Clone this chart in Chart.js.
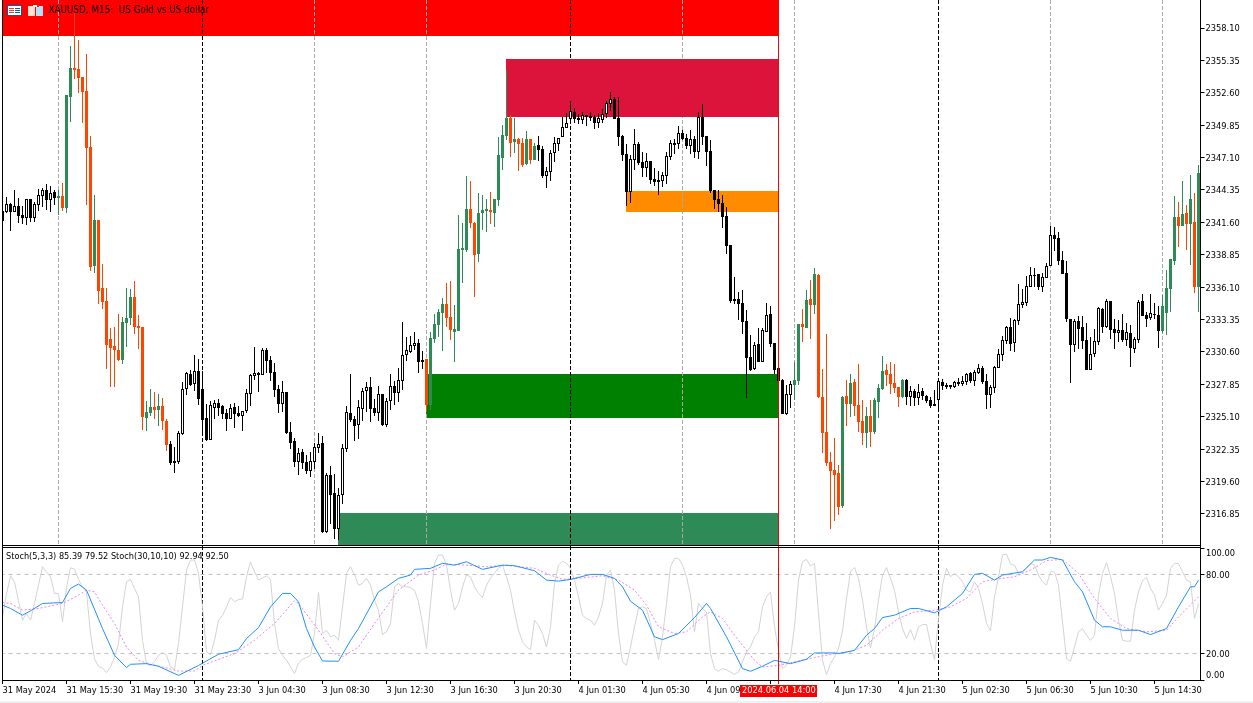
<!DOCTYPE html>
<html lang="en">
<head>
  <meta charset="UTF-8">
  <title>XAUUSD, M15</title>
  <script src="https://cdn.jsdelivr.net/npm/chart.js"></script>
  <style>
    html, body { margin: 0; padding: 0; background: #f0f0f0; overflow: hidden; }
    canvas { display: block; background: #fff; }
  </style>
</head>
<body>
<canvas id="chart" width="1253" height="701"></canvas>
<script>
const open = [
  2342.57,2342.48,2343.16,2342.48,2342.99,2342.23,2341.97,2343.58,2341.97,2343.08,
  2343.84,2344.35,2343.50,2344.18,2343.67,2343.84,2342.82,2352.24,2354.71,2354.62,
  2353.94,2352.76,2348.00,2337.90,2341.80,2336.03,2334.93,2331.70,2331.11,2330.77,
  2329.92,2333.06,2333.48,2335.26,2332.80,2332.72,2324.99,2325.42,2325.93,2325.67,
  2326.01,2324.74,2322.78,2321.34,2321.25,2323.63,2327.45,2328.73,2327.88,2328.98,
  2327.45,2324.99,2323.12,2325.84,2326.27,2326.01,2325.42,2324.91,2325.93,2325.42,
  2325.16,2325.59,2327.03,2328.56,2328.81,2328.64,2330.77,2329.92,2328.90,2327.45,
  2326.18,2327.20,2323.80,2323.04,2321.25,2322.11,2321.25,2320.49,2321.25,2322.44,
  2322.87,2315.31,2320.15,2318.62,2315.57,2318.45,2322.36,2325.42,2324.91,2324.40,
  2325.76,2327.28,2327.62,2325.84,2325.42,2327.03,2324.40,2326.44,2327.71,2327.11,
  2328.13,2330.34,2330.60,2331.11,2331.36,2329.92,2330.00,2326.09,2331.70,2332.89,
  2333.91,2334.67,2333.57,2332.29,2332.38,2339.26,2339.26,2342.74,2341.55,2338.92,
  2342.40,2342.57,2342.65,2342.40,2343.50,2347.07,2348.93,2350.46,2348.42,2348.68,
  2348.34,2346.56,2348.68,2346.90,2348.17,2347.83,2345.54,2345.88,2347.49,2348.25,
  2348.85,2349.61,2350.38,2350.97,2350.46,2350.29,2350.72,2350.63,2350.55,2350.04,
  2350.29,2350.80,2351.65,2352.07,2350.46,2348.93,2347.41,2344.18,2346.90,2348.25,
  2346.73,2346.22,2346.81,2345.28,2345.20,2345.11,2345.54,2347.15,2348.34,2348.25,
  2349.19,2348.76,2348.08,2348.68,2347.58,2350.55,2348.93,2347.66,2344.35,2343.58,
  2343.25,2342.14,2339.68,2335.10,2335.10,2334.76,2333.23,2330.17,2329.15,2331.28,
  2329.75,2332.29,2333.82,2331.36,2329.24,2328.22,2325.33,2326.95,2327.79,2328.13,
  2332.97,2332.63,2335.10,2334.59,2337.13,2326.77,2323.80,2321.25,2320.58,2320.32,
  2317.52,2326.86,2326.18,2328.05,2326.09,2324.74,2323.72,2325.16,2323.80,2326.35,
  2327.45,2329.07,2328.73,2327.96,2327.62,2326.77,2328.22,2326.77,2327.28,2326.69,
  2327.28,2326.86,2326.52,2326.18,2326.52,2328.05,2327.79,2327.79,2327.62,2327.88,
  2327.88,2328.05,2328.81,2328.13,2328.81,2329.24,2328.13,2326.95,2327.54,2329.24,
  2330.34,2331.53,2332.72,2331.36,2333.23,2334.59,2334.76,2336.11,2337.05,2337.22,
  2336.11,2336.88,2337.90,2340.53,2340.27,2338.41,2337.30,2333.40,2331.19,2333.23,
  2332.72,2331.61,2329.07,2330.43,2331.45,2334.25,2332.72,2334.93,2332.55,2332.21,
  2332.46,2331.61,2332.21,2330.85,2331.61,2334.93,2333.74,2333.48,2333.74,2333.74,
  2332.38,2333.91,2335.95,2338.32,2342.06,2341.29,2342.40,2341.46,2341.63,2336.11
];
const close = [
  2341.72,2343.16,2342.48,2342.99,2342.14,2341.97,2343.58,2341.97,2343.16,2343.92,
  2344.35,2343.50,2344.09,2343.67,2343.84,2342.82,2352.41,2354.71,2354.54,2353.86,
  2352.67,2347.91,2337.81,2341.80,2335.77,2334.84,2331.19,2330.94,2330.77,2329.92,
  2333.14,2333.48,2335.26,2332.72,2332.63,2325.08,2325.50,2325.93,2325.67,2326.01,
  2324.74,2322.70,2321.17,2321.17,2323.72,2327.45,2328.81,2327.79,2328.98,2326.61,
  2324.82,2323.12,2326.09,2326.27,2325.84,2325.33,2324.91,2325.84,2325.33,2325.16,
  2325.59,2327.11,2328.64,2328.81,2328.64,2330.77,2329.83,2328.81,2327.37,2326.18,
  2327.20,2323.72,2322.87,2321.25,2322.02,2321.17,2320.49,2321.34,2322.53,2322.78,
  2315.31,2320.15,2318.45,2315.57,2318.45,2322.44,2325.50,2324.82,2324.31,2325.93,
  2327.28,2327.62,2325.76,2325.42,2327.03,2324.40,2326.44,2327.71,2327.11,2328.22,
  2330.34,2330.77,2331.19,2331.36,2329.75,2329.75,2326.09,2331.78,2332.97,2333.99,
  2334.67,2333.48,2332.46,2332.55,2339.34,2339.43,2342.74,2341.55,2338.83,2342.40,
  2342.65,2342.74,2342.48,2343.58,2347.32,2349.02,2350.46,2348.34,2348.68,2348.25,
  2346.47,2348.68,2346.90,2348.08,2347.75,2345.54,2345.96,2347.49,2348.34,2348.76,
  2349.70,2350.04,2351.06,2350.38,2350.29,2350.72,2350.55,2350.46,2350.04,2350.46,
  2350.80,2351.74,2352.07,2350.38,2348.85,2347.32,2344.18,2346.98,2348.25,2346.64,
  2346.22,2346.81,2345.20,2345.03,2345.03,2345.62,2347.24,2348.34,2348.17,2349.19,
  2348.68,2348.08,2348.68,2347.58,2350.55,2348.85,2347.58,2344.26,2343.50,2343.16,
  2342.06,2339.59,2334.93,2334.93,2334.67,2333.14,2330.09,2329.07,2331.19,2329.75,
  2332.46,2333.74,2331.28,2329.07,2328.13,2325.33,2327.03,2327.88,2328.22,2332.97,
  2332.72,2335.01,2334.59,2337.22,2326.77,2323.72,2321.17,2320.49,2320.15,2317.44,
  2326.77,2326.18,2327.96,2326.01,2324.65,2323.72,2325.16,2323.80,2326.52,2327.54,
  2328.98,2328.64,2327.88,2327.54,2326.77,2328.22,2326.77,2327.28,2326.69,2327.20,
  2326.86,2326.44,2326.01,2326.01,2328.13,2327.71,2327.62,2327.62,2328.05,2328.05,
  2328.13,2328.73,2328.13,2328.90,2329.24,2328.05,2326.95,2327.62,2329.32,2330.43,
  2331.61,2332.72,2331.28,2333.31,2334.67,2334.84,2336.20,2337.13,2337.13,2336.11,
  2336.96,2337.90,2340.53,2340.19,2338.32,2337.22,2333.40,2331.19,2333.23,2332.55,
  2331.53,2329.07,2330.43,2331.53,2334.33,2332.72,2334.93,2332.46,2332.21,2332.46,
  2331.61,2332.29,2330.94,2331.70,2334.84,2333.65,2333.40,2333.91,2333.82,2332.38,
  2334.50,2336.03,2338.49,2342.06,2341.29,2342.31,2341.46,2343.58,2336.11,2345.79
];
const high = [
  2342.82,2343.75,2343.25,2344.35,2343.67,2342.99,2343.58,2343.58,2343.33,2344.43,
  2344.52,2344.86,2344.69,2344.35,2344.35,2344.94,2352.41,2356.57,2359.38,2357.08,
  2353.94,2355.90,2348.93,2343.92,2341.80,2338.07,2336.03,2332.63,2332.72,2333.82,
  2333.57,2336.03,2335.95,2336.62,2333.74,2332.72,2326.44,2327.45,2327.20,2327.03,
  2326.69,2324.91,2323.04,2322.53,2323.89,2328.05,2328.90,2329.07,2330.34,2330.00,
  2328.98,2326.18,2326.44,2326.52,2326.61,2326.09,2325.76,2326.18,2326.27,2326.01,
  2325.59,2327.45,2328.73,2331.02,2328.90,2330.94,2330.94,2330.26,2329.66,2327.79,
  2328.13,2327.20,2324.65,2323.29,2322.44,2322.36,2321.85,2322.11,2322.87,2323.72,
  2323.46,2320.32,2320.92,2320.24,2319.05,2322.78,2326.01,2328.73,2325.16,2326.52,
  2327.54,2328.05,2328.47,2326.61,2327.71,2327.03,2326.69,2328.73,2328.13,2329.24,
  2333.14,2331.87,2331.95,2332.29,2331.70,2330.68,2330.00,2332.29,2333.82,2334.25,
  2335.18,2336.45,2336.62,2334.59,2342.23,2341.55,2345.54,2345.11,2341.63,2344.09,
  2343.92,2343.58,2344.18,2343.58,2348.85,2349.87,2354.54,2350.72,2350.46,2348.76,
  2348.76,2349.36,2348.68,2348.34,2348.93,2348.08,2346.30,2347.75,2348.85,2348.76,
  2350.55,2350.89,2351.91,2351.31,2350.80,2350.97,2350.72,2350.97,2350.72,2350.89,
  2351.23,2351.91,2352.67,2352.24,2352.24,2349.02,2348.25,2347.32,2349.53,2348.42,
  2347.58,2347.49,2346.81,2346.22,2345.96,2345.88,2347.58,2348.59,2348.68,2349.78,
  2349.44,2349.10,2349.44,2348.93,2350.97,2351.65,2348.93,2348.59,2344.35,2344.35,
  2343.92,2342.91,2339.68,2336.96,2335.69,2335.86,2334.16,2332.04,2331.45,2332.63,
  2332.63,2334.76,2334.50,2331.36,2329.24,2328.30,2327.79,2328.13,2329.75,2332.97,
  2334.25,2335.86,2336.71,2337.73,2337.22,2329.15,2332.12,2322.11,2323.29,2321.00,
  2326.86,2328.22,2328.73,2328.30,2329.58,2326.52,2325.93,2326.52,2326.69,2327.88,
  2330.26,2329.58,2329.75,2329.58,2327.62,2328.30,2328.30,2327.71,2327.45,2327.88,
  2327.54,2326.95,2326.77,2327.37,2328.13,2328.30,2327.96,2327.79,2328.13,2328.39,
  2328.56,2328.81,2328.90,2329.07,2329.58,2329.41,2328.73,2327.79,2329.41,2330.85,
  2331.95,2332.80,2333.48,2333.40,2336.37,2335.95,2337.05,2337.81,2337.73,2337.22,
  2337.30,2338.15,2341.29,2341.21,2340.78,2339.17,2338.32,2333.40,2333.40,2333.65,
  2333.65,2333.06,2331.87,2332.55,2334.42,2334.33,2335.10,2334.93,2333.40,2333.31,
  2333.82,2333.06,2332.89,2331.87,2335.01,2335.52,2333.99,2335.52,2334.76,2334.50,
  2335.43,2337.56,2338.49,2343.84,2343.33,2345.11,2343.08,2345.62,2344.09,2346.47
];
const low = [
  2341.46,2342.40,2340.87,2342.48,2341.55,2341.46,2341.38,2341.63,2341.63,2342.57,
  2342.91,2342.65,2342.48,2343.08,2342.23,2342.57,2342.40,2350.12,2353.77,2352.58,
  2350.04,2343.08,2337.47,2337.30,2334.67,2334.25,2329.15,2327.62,2327.62,2329.83,
  2329.58,2331.02,2332.89,2332.12,2330.85,2323.97,2323.89,2325.16,2324.91,2324.31,
  2323.97,2322.19,2321.00,2320.32,2321.09,2323.55,2326.95,2327.71,2327.28,2326.09,
  2323.63,2323.04,2323.12,2324.91,2325.16,2324.91,2323.89,2324.91,2324.14,2325.08,
  2323.89,2325.42,2326.01,2328.22,2327.20,2328.64,2328.81,2328.13,2326.77,2325.42,
  2325.50,2323.63,2322.36,2320.83,2320.15,2320.66,2320.24,2319.98,2320.66,2322.02,
  2315.23,2315.23,2315.99,2314.72,2314.63,2317.69,2322.11,2324.65,2323.04,2323.21,
  2324.74,2325.50,2324.65,2325.16,2324.74,2324.31,2324.23,2325.67,2326.09,2326.35,
  2327.37,2329.83,2330.51,2330.77,2328.81,2329.15,2325.50,2325.67,2331.36,2331.87,
  2330.68,2332.72,2331.61,2329.75,2332.38,2336.45,2339.09,2341.12,2335.26,2338.24,
  2340.95,2340.78,2341.46,2341.21,2342.99,2346.05,2348.59,2347.15,2347.49,2345.96,
  2346.30,2346.47,2346.56,2346.90,2346.81,2345.37,2344.52,2345.11,2346.73,2347.66,
  2348.85,2349.61,2349.95,2350.04,2349.95,2349.95,2349.78,2350.21,2349.53,2349.61,
  2350.04,2350.46,2351.06,2350.38,2348.08,2346.81,2342.99,2343.25,2346.05,2346.47,
  2345.45,2345.45,2344.86,2344.69,2343.92,2344.60,2344.86,2346.90,2347.41,2347.83,
  2348.59,2347.83,2347.41,2347.07,2346.98,2348.17,2346.39,2344.09,2342.74,2342.48,
  2341.12,2338.92,2334.76,2334.67,2333.31,2332.12,2326.69,2328.98,2329.07,2329.75,
  2329.75,2332.29,2331.02,2328.73,2328.13,2325.33,2325.25,2325.84,2326.52,2327.79,
  2331.45,2332.63,2331.70,2333.82,2326.69,2322.02,2320.92,2315.57,2316.25,2316.76,
  2317.35,2324.31,2325.08,2325.16,2323.80,2322.70,2322.44,2322.53,2323.63,2324.99,
  2327.37,2327.71,2327.03,2327.11,2325.93,2326.69,2326.09,2326.01,2326.01,2326.09,
  2326.52,2326.27,2325.84,2326.01,2325.76,2327.37,2327.45,2327.45,2327.54,2327.71,
  2327.71,2327.79,2327.96,2327.71,2328.73,2327.88,2325.76,2325.84,2327.11,2329.24,
  2329.83,2331.28,2330.68,2330.60,2332.89,2334.33,2334.50,2336.11,2336.11,2335.86,
  2335.69,2336.88,2337.90,2339.17,2337.98,2337.22,2333.14,2327.96,2330.60,2330.85,
  2330.85,2329.07,2329.07,2330.17,2331.19,2332.21,2332.63,2331.70,2330.85,2331.45,
  2331.45,2331.11,2329.32,2330.51,2331.36,2333.65,2332.72,2333.31,2333.40,2330.94,
  2332.21,2332.04,2333.99,2337.98,2339.51,2341.29,2339.26,2337.98,2335.60,2333.99
];

// Stoch(5,3,3) main line, one value per bar
const stochFast = [
  47.8,65,79,74.4,60,45.3,50.4,45.3,58,72,
  85.8,82,78.2,65.6,65.6,44,70,85,84,76,
  70.6,66.8,35,16,10.4,9,5.6,10,17.5,27.6,
  55.4,74.4,76.2,69.4,63,30,12.4,11,13.7,18.7,
  20.8,18.7,10,8,27.6,55.4,83.3,90.9,90.9,80.8,
  55.4,21.3,19.2,30,45.3,49,55.4,62.5,59.2,61,
  61.3,78.2,89.6,82,75.7,77.5,78.7,76.2,42.8,23.8,
  18.7,15,10,4.8,12.9,15.7,17,18.7,35.2,66.3,
  35.2,37.7,32.7,33.9,30,55.4,80.8,85.8,79.5,71.9,
  73.2,77,71.9,60.5,52.9,34.4,36.5,42.8,70.6,73.2,
  70.6,70.6,70,68,59.2,42.8,23.8,58,88.4,94.7,
  94.7,87,68,52.9,58,70.6,79.5,78.2,70.6,65.6,
  62.5,71.9,77,80.8,84.6,87,78.2,68,51.6,37.7,
  28.9,25,23,45.3,41.5,35.2,25,40.3,73.2,87,
  90,88.4,84.6,75.7,63,49,46.6,45.3,41.5,47.8,
  58,79.5,83.3,68,35.2,13.7,11.1,25,40.3,54.2,
  55.4,54.2,42.8,30,15.4,32.7,58,85.8,92.2,92.2,
  87,78.2,64.3,36.5,58,54.2,51.6,20,8.6,6.6,
  8.6,7.8,6,4.3,6,13.7,21.3,25,32.7,36.5,
  55.4,63,66.8,40.3,22.5,8.6,11.1,17.5,40.3,75.7,
  89.6,91.4,86.3,88.4,50.4,14.9,4,12.4,17.5,23.8,
  37.2,61.5,82,85.3,77,60.5,40.3,24.3,39,60.5,
  79.5,85.3,77,68,51.6,39,31.4,38.2,30.1,40.3,
  42,42,27.6,15.4,46.6,71.9,84.6,78.2,80.8,78.2,
  74.4,68,66.8,74.4,69.4,58,42.8,37.2,63,78.2,
  94.7,95.4,87.8,87,80.8,82,84.6,88.4,87,79.5,
  74.4,71.9,82,82,71.9,44,16.2,14.2,25,36.5,
  39,33.9,30.1,33.9,64.3,80.8,88.9,78.2,65.6,45.3,
  30.1,29.4,29.4,52.9,66.8,75.2,77.7,69.4,64.3,52.9,
  58,64.3,84.6,88.4,88.1,82,75.7,74.4,46.6,58
];
// Stoch(30,10,10) main line, read at its corners
const slowBars = [
  0,2,5,7,10,15,17,19,21,25,28,31,32,36,39,44,49,54,59,61,64,67,70,72,74,76,78,80,84,87,89,94,96,99,102,103,
  107,110,113,116,120,125,128,133,136,139,142,147,150,153,155,157,160,163,165,169,173,176,177,181,185,187,190,193,197,201,203,208,
  209,213,216,218,220,223,227,229,233,236,240,243,245,248,250,255,258,260,262,265,268,270,273,275,277,280,284,287,291,294,297,298,299
];
const stochSlow = [
  56.7,54.2,49.1,52.4,58,58.7,69.4,72.7,68.1,39,18.7,9.4,11.9,12.4,10.4,3.5,11,19.5,23,31.4,39.7,55.4,65.6,65.6,59.2,39,25,14.4,14.2,30,39,66.8,70.6,77,79.5,83.8,
  84.6,88.4,87,89.6,83.8,87,86.6,82.8,75.7,74.9,76.2,80,80,77,70.6,59.7,52.9,32.7,30.6,35.2,47.3,58,54.2,32.7,8.6,6.6,10.4,14.9,12.4,15.7,20.5,20.5,
  20,22.5,33.9,39,47.3,49.1,54.2,54.2,50.9,55.4,65.6,80,80.8,75.7,79.5,82,90.9,90.9,92.9,90.9,74.4,66.8,45.3,40.3,40.3,37.7,37.7,34.4,39,55.4,70.6,70.6,75.7
];
// Stoch(30,10,10) signal line, read at its corners
const signalBars = [
  0,2,5,9,15,19,21,23,25,28,31,34,37,40,44,48,50,58,63,68,73,74,79,83,85,89,93,99,104,
  108,111,116,121,126,129,133,137,140,144,150,154,158,161,164,168,171,175,177,180,183,188,190,194,198,203,
  208,212,216,220,224,228,233,237,241,245,248,253,257,261,265,269,273,277,281,286,291,294,299
];
const stochSignal = [
  58.7,58,52.9,54.2,58,64.3,68.1,66.8,56.7,42.8,25,14.9,11.9,9.9,6.8,6.8,11.1,20,30.1,42.8,60,58,37.7,20,17.5,25,42.8,68.1,79.5,
  83.3,87.8,87,85.8,87,85.8,84.6,79.5,76.2,77,79,75.7,68.1,56.7,40.3,35.2,36.5,47.8,51.6,46.6,33.9,14.9,9.9,11.1,13.7,17,
  20,21.3,26.3,37.7,46.6,51.6,52.9,55.4,61.8,74.4,76.2,78.2,83.3,90.4,91.4,80.8,61.8,46.6,39,36.5,37.7,47.8,63
];

// bars drawn in session colours, [first, last]
const sessionRanges = [[14, 41], [106, 133], [198, 225], [290, 299]];

const priceTicks = [2358.10,2355.35,2352.60,2349.85,2347.10,2344.35,2341.60,2338.85,2336.10,2333.35,2330.60,2327.85,2325.10,2322.35,2319.60,2316.85];
const stochTicks = [100, 80, 20, 0];
const timeTickBars = [0,16,32,48,64,80,96,112,128,144,160,176,192,208,224,240,256,272,288];
const timeTickLabels = ['31 May 2024','31 May 15:30','31 May 19:30','31 May 23:30','3 Jun 04:30','3 Jun 08:30','3 Jun 12:30','3 Jun 16:30','3 Jun 20:30','4 Jun 01:30','4 Jun 05:30','4 Jun 09:30','4 Jun 13:30','4 Jun 17:30','4 Jun 21:30','5 Jun 02:30','5 Jun 06:30','5 Jun 10:30','5 Jun 14:30'];

// zones: first bar, last bar, upper price, lower price; the last one lies over the dashed lines
const zoneColors = ['#ff0000', '#ff8c00', '#008000', '#2e8b57', '#dc143c'];
const zoneFrom = [0, 156, 106, 84, 126];
const zoneTo = [194, 194, 194, 194, 194];
const zoneTop = [2360.48, 2344.26, 2328.73, 2316.93, 2355.47];
const zoneBottom = [2357.42, 2342.48, 2324.99, 2314.21, 2350.55];

const sessionLineBars = [14, 78, 106, 170, 198, 262, 290];
const dayLineBars = [50, 142, 234];
const cursorBar = 194;

const FAMILY = "'DejaVu Sans Condensed', 'Liberation Sans', sans-serif";
const UP = '#2e8b57', DOWN = '#ff4500';

function inSession(i) {
  return sessionRanges.some(r => i >= r[0] && i <= r[1]);
}
function bodyFill(i) {
  const up = close[i] >= open[i];
  if (inSession(i)) return up ? UP : DOWN;
  return up ? '#ffffff' : '#000000';
}
function lineColor(i) {
  if (inSession(i)) return close[i] >= open[i] ? UP : DOWN;
  return '#000000';
}

const barIndex = open.map((_, i) => i);

function drawZone(chart, i) {
  const c = chart.ctx, x = chart.scales.x, y = chart.scales.y;
  const left = x.getPixelForValue(zoneFrom[i]);
  const right = x.getPixelForValue(zoneTo[i]);
  const top = Math.round(y.getPixelForValue(zoneTop[i]));
  const bottom = Math.round(y.getPixelForValue(zoneBottom[i]));
  c.fillStyle = zoneColors[i];
  c.fillRect(left - 0.5, top, right - left, bottom - top);
}

const panePlugin = {
  id: 'panes',
  beforeDatasetsDraw(chart) {
    const c = chart.ctx, x = chart.scales.x, y2 = chart.scales.y2;
    c.save();
    [0, 1, 2, 3].forEach(i => drawZone(chart, i));
    c.lineWidth = 1;
    c.setLineDash([4, 2]);
    c.strokeStyle = '#a9a9a9';
    sessionLineBars.forEach(b => {
      const px = x.getPixelForValue(b);
      c.beginPath(); c.moveTo(px, 0); c.lineTo(px, 545); c.stroke();
    });
    c.strokeStyle = '#000000';
    dayLineBars.forEach(b => {
      const px = x.getPixelForValue(b);
      c.beginPath(); c.moveTo(px, 0); c.lineTo(px, y2.bottom); c.stroke();
    });
    c.setLineDash([]);
    drawZone(chart, 4);
    c.restore();
  },
  afterDatasetsDraw(chart) {
    const c = chart.ctx, x = chart.scales.x, y2 = chart.scales.y2;
    c.save();
    c.fillStyle = '#ffffff';
    c.fillRect(0, 0, 2, y2.bottom);
    // cursor line
    const cx = x.getPixelForValue(cursorBar);
    c.strokeStyle = '#ff0000';
    c.lineWidth = 1;
    c.beginPath(); c.moveTo(cx, 0); c.lineTo(cx, y2.bottom + 4); c.stroke();
    // pane frames
    c.fillStyle = '#000000';
    c.fillRect(2, 0, 1, y2.bottom);
    c.fillRect(2, 545, 1198, 1);
    c.fillRect(2, 547, 1198, 1);
    c.fillRect(2, 680, 1198, 1);
    c.fillRect(1200, 0, 1, 681);
    // heading icons
    c.fillStyle = '#ffffff'; c.fillRect(8, 6, 14, 10);
    c.strokeStyle = '#0a5c9e'; c.strokeRect(7.5, 5.5, 14, 10);
    c.fillStyle = '#e0402a'; c.fillRect(9, 8, 5, 1); c.fillRect(9, 10, 5, 1); c.fillRect(9, 12, 5, 1);
    c.fillStyle = '#0a5c9e'; c.fillRect(15, 8, 5, 1); c.fillRect(15, 10, 5, 1); c.fillRect(15, 12, 5, 1);
    c.fillStyle = '#ffe0d0'; c.fillRect(28, 6, 7, 10);
    c.fillStyle = '#b8e0fa'; c.fillRect(36, 6, 7, 10);
    c.fillStyle = '#d03020'; c.fillRect(33, 5, 6, 2);
    c.fillStyle = '#ffffff'; c.fillRect(33, 5, 4, 2);
    // heading and indicator texts
    c.font = '9.8px ' + FAMILY;
    c.textBaseline = 'middle';
    c.textAlign = 'left';
    c.fillStyle = '#000000';
    c.fillText('XAUUSD, M15:  US Gold vs US dollar', 48.5, 10.5);
    c.font = '9.1px ' + FAMILY;
    c.fillText('Stoch(5,3,3) 85.39 79.52 Stoch(30,10,10) 92.94 92.50', 6, 556.5);
    // oscillator labels sit inside the pane at both ends
    c.font = '9.2px ' + FAMILY;
    stochTicks.forEach(v => {
      let py = y2.getPixelForValue(v) + 1;
      if (v === 100) py += 4.5;
      if (v === 0) py -= 5;
      c.fillText(v.toFixed(2), 1206, py);
    });
    c.restore();
  },
  afterDraw(chart) {
    const c = chart.ctx;
    c.save();
    c.fillStyle = '#ff0000';
    c.fillRect(740, 685, 77, 12);
    c.fillStyle = '#ffffff';
    c.font = '9.2px ' + FAMILY;
    c.textBaseline = 'middle';
    c.textAlign = 'left';
    c.fillText('2024.06.04 14:00', 742, 691);
    c.restore();
  }
};

new Chart(document.getElementById('chart'), {
  type: 'bar',
  plugins: [panePlugin],
  data: {
    labels: barIndex,
    datasets: [
      {
        label: 'Stoch(30,10,10) main', type: 'line', yAxisID: 'y2', order: 1,
        data: slowBars.map((b, i) => ({ x: b, y: stochSlow[i] })),
        borderColor: '#1e90ff', borderWidth: 1, pointRadius: 0, tension: 0
      },
      {
        label: 'Stoch(30,10,10) signal', type: 'line', yAxisID: 'y2', order: 2,
        data: signalBars.map((b, i) => ({ x: b, y: stochSignal[i] })),
        borderColor: '#ee82ee', borderWidth: 1, borderDash: [2, 2], pointRadius: 0, tension: 0
      },
      {
        label: 'Stoch(5,3,3)', type: 'line', yAxisID: 'y2', order: 3,
        data: stochFast,
        borderColor: '#d3d3d3', borderWidth: 1, pointRadius: 0, tension: 0
      },
      {
        label: 'body', yAxisID: 'y', order: 4, grouped: false,
        data: barIndex.map(i => [open[i], close[i]]),
        backgroundColor: barIndex.map(bodyFill),
        borderColor: barIndex.map(lineColor),
        borderWidth: 1, borderSkipped: false, inflateAmount: 0, barThickness: 3
      },
      {
        label: 'wick', yAxisID: 'y', order: 5, grouped: false,
        data: barIndex.map(i => [low[i], high[i]]),
        backgroundColor: barIndex.map(lineColor),
        borderWidth: 0, inflateAmount: 0, barThickness: 1
      }
    ]
  },
  options: {
    responsive: false,
    animation: false,
    events: [],
    layout: { padding: { left: 0.5, right: 0, top: 0, bottom: 0 } },
    plugins: { legend: { display: false }, tooltip: { enabled: false }, title: { display: false } },
    scales: {
      x: {
        type: 'category',
        offset: true,
        afterBuildTicks: s => { s.ticks = timeTickBars.map(b => ({ value: b })); },
        afterFit: s => { s.height = 21; s.paddingLeft = 0; s.paddingRight = 0; },
        grid: { drawOnChartArea: false, drawTicks: true, tickLength: 4, tickColor: '#000', offset: false },
        border: { display: false },
        ticks: {
          autoSkip: false, maxRotation: 0, minRotation: 0, align: 'start', padding: 1,
          color: '#000', font: { family: FAMILY, size: 9.2 },
          callback: v => timeTickLabels[timeTickBars.indexOf(v)]
        }
      },
      y: {
        position: 'right', stack: 'panes', stackWeight: 547,
        min: 2314.04, max: 2360.48,
        afterBuildTicks: s => { s.ticks = priceTicks.map(v => ({ value: v })); },
        afterFit: s => { s.width = 52.5; s.paddingTop = 0; s.paddingBottom = 0; },
        grid: { drawOnChartArea: false, tickLength: 4, tickColor: '#000' },
        border: { display: false },
        ticks: {
          padding: 1, labelOffset: 1, color: '#000', autoSkip: false,
          font: { family: FAMILY, size: 9.2 },
          callback: v => v.toFixed(2)
        }
      },
      y2: {
        position: 'right', stack: 'panes', stackWeight: 133,
        min: 0, max: 100.76,
        afterBuildTicks: s => { s.ticks = stochTicks.map(v => ({ value: v })); },
        afterFit: s => { s.width = 52.5; s.paddingTop = 0; s.paddingBottom = 0; },
        grid: {
          color: ctx => (ctx.tick && (ctx.tick.value === 80 || ctx.tick.value === 20)) ? '#c0c0c0' : 'transparent',
          tickLength: 4, tickColor: '#000'
        },
        border: { display: false, dash: [4, 4] },
        ticks: { display: false }
      }
    }
  }
});
</script>
</body>
</html>
